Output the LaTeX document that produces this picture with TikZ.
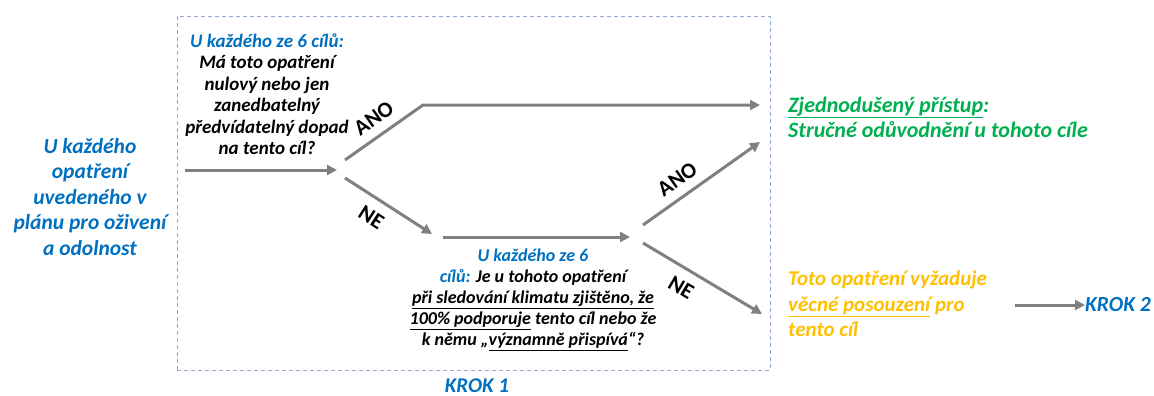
\documentclass[tikz,border=0pt]{standalone}
\usepackage{fontspec}
\setmainfont{Carlito}
\usetikzlibrary{arrows.meta}
\definecolor{stepblue}{HTML}{0070C0}
\definecolor{okgreen}{HTML}{00B050}
\definecolor{warnorange}{HTML}{FFC000}
\definecolor{arrowgray}{HTML}{808080}
\definecolor{framegray}{HTML}{8FAACC}
\begin{document}
\begin{tikzpicture}[x=1pt,y=-1pt,
    txt/.style={font=\fontsize{19}{21.5}\selectfont\bfseries\itshape, inner sep=0pt},
    bigtxt/.style={txt, font=\fontsize{21.5}{25.5}\selectfont\bfseries\itshape},
    flow/.style={draw=arrowgray, line width=3pt, -{Triangle[length=10pt,width=10pt]}},
    branch/.style={font=\fontsize{22}{24}\selectfont\bfseries, inner sep=2pt}]
    \useasboundingbox (0,0) rectangle (1154,396);

    % Define nodes for the diagram
    \node (krokbox) [draw=framegray, dash pattern=on 4pt off 3pt, line width=0.8pt,
        minimum width=593pt, minimum height=354pt, inner sep=0pt] at (473.5,193) {};
    \node (start) [bigtxt, align=center, text=stepblue] at (90,197)
        {U každého\\opatření\\uvedeného v\\plánu pro oživení\\a odolnost};
    \node (q1) [txt, align=center] at (267,94)
        {\textcolor{stepblue}{U každého ze 6 cílů:}\\Má toto opatření\\nulový nebo jen\\zanedbatelný\\předvídatelný dopad\\na tento cíl?};
    \node (q2) [txt, align=center, font=\fontsize{18}{21}\selectfont\bfseries\itshape] at (533,300)
        {\textcolor{stepblue}{U každého ze 6}\\\textcolor{stepblue}{cílů:} Je u tohoto opatření\\\underline{při sledování klimatu zjištěno, že}\\\underline{100\% podporuje} tento cíl nebo že\\k němu „\underline{významně přispívá}“?};
    \node (simple) [bigtxt, align=left, text=okgreen, anchor=west,
        font=\fontsize{22}{25}\selectfont\bfseries\itshape] at (788,117)
        {\underline{Zjednodušený přístup}:\\Stručné odůvodnění u tohoto cíle};
    \node (review) [bigtxt, align=left, text=warnorange, anchor=west,
        font=\fontsize{21}{25.5}\selectfont\bfseries\itshape] at (788,304)
        {Toto opatření vyžaduje\\\underline{věcné posouzení} pro\\tento cíl};
    \node (krok2) [bigtxt, text=stepblue, anchor=west] at (1085,305) {KROK 2};
    \node (krok1) [bigtxt, text=stepblue, font=\fontsize{21}{24}\selectfont\bfseries\itshape] at (477,386) {KROK 1};

    \coordinate (s0) at (185,170);
    \coordinate (s1) at (337,170);
    \coordinate (y1a) at (345,160);
    \coordinate (y1b) at (423,105);
    \coordinate (y1c) at (760,105);
    \coordinate (n1a) at (345,178);
    \coordinate (n1b) at (432,234);
    \coordinate (h2a) at (443,237);
    \coordinate (h2b) at (630,237);
    \coordinate (y2a) at (643,225);
    \coordinate (y2b) at (760,142);
    \coordinate (n2a) at (643,243);
    \coordinate (n2b) at (762,314);
    \coordinate (k2a) at (1015,305);

    % Draw the connections
    \draw[flow] (s0) -- (s1);
    \draw[flow] (y1a) -- node[branch, sloped, above=7pt] {ANO} (y1b) -- (y1c);
    \draw[flow] (n1a) -- node[branch, sloped, below=8pt, pos=0.42] {NE} (n1b);
    \draw[flow] (h2a) -- (h2b);
    \draw[flow] (y2a) -- node[branch, sloped, above=7pt, pos=0.38] {ANO} (y2b);
    \draw[flow] (n2a) -- node[branch, sloped, below=8pt, pos=0.4] {NE} (n2b);
    \draw[flow] (k2a) -- (krok2.west);
\end{tikzpicture}
\end{document}
